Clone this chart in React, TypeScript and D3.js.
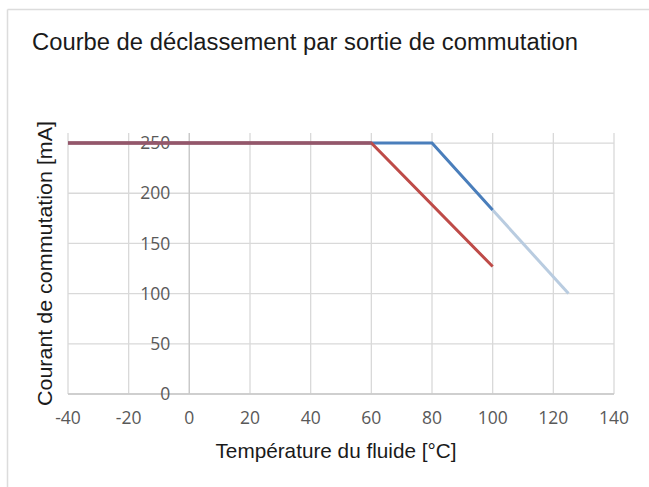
import React from "react";
import * as d3 from "d3";

const TITLE = "Courbe de déclassement par sortie de commutation";
const X_TITLE = "Température du fluide [°C]";
const Y_TITLE = "Courant de commutation [mA]";

const xTicks = [-40, -20, 0, 20, 40, 60, 80, 100, 120, 140];
const yTicks = [0, 50, 100, 150, 200, 250];

// red series
const redX = [-40, 60, 100];
const redY = [250, 250, 127];
// blue series (solid part)
const blueX = [-40, 60, 80, 100];
const blueY = [250, 250, 250, 183.3];
// light blue extension
const lightX = [100, 125];
const lightY = [183.3, 100];

const W = 649;
const H = 487;
const M = { left: 68, right: 35, top: 133, bottom: 93 };

export default function App() {
  const x = d3.scaleLinear().domain([-40, 140]).range([M.left, W - M.right]);
  const y = d3.scaleLinear().domain([0, 260]).range([H - M.bottom, M.top]);
  const line = d3
    .line<[number, number]>()
    .x((d) => x(d[0]))
    .y((d) => y(d[1]));
  const pts = (xs: number[], ys: number[]) => xs.map((v, i) => [v, ys[i]] as [number, number]);

  const red = pts(redX, redY);
  const blue = pts(blueX, blueY);
  const light = pts(lightX, lightY);
  // segment where both series coincide
  const overlap = red.filter((p) => blue.some((q) => q[0] === p[0] && q[1] === p[1]));

  const tickFont = "'Open Sans', 'Noto Sans', sans-serif";
  const labelFont = "'Liberation Sans', Arial, sans-serif";

  return (
    <svg
      width={W}
      height={H}
      style={{ position: "absolute", left: 0, top: 0, display: "block", background: "#fff" }}
    >
      <line x1={7.5} x2={W} y1={9.5} y2={9.5} stroke="#dcdcdc" strokeWidth={1.5} />
      <line x1={7.5} x2={7.5} y1={9.5} y2={H} stroke="#dcdcdc" strokeWidth={1.5} />
      <text x={32} y={50} fontFamily={labelFont} fontSize={23.5} fill="#1a1a1a" textLength={546} lengthAdjust="spacingAndGlyphs">
        {TITLE}
      </text>
      {/* gridlines */}
      {xTicks.map((t) => (
        <line key={"gx" + t} x1={x(t)} x2={x(t)} y1={M.top} y2={y(0)} stroke="#d9d9d9" strokeWidth={1.3} />
      ))}
      {yTicks.map((t) => (
        <line key={"gy" + t} x1={x(-40)} x2={x(140)} y1={y(t)} y2={y(t)} stroke="#d9d9d9" strokeWidth={1.3} />
      ))}
      <line x1={x(0)} x2={x(0)} y1={M.top} y2={y(0)} stroke="#c8c8c8" strokeWidth={1.3} />
      <line x1={x(-40)} x2={x(140)} y1={y(0)} y2={y(0)} stroke="#c8c8c8" strokeWidth={1.3} />
      {/* y tick labels next to the vertical axis at x=0 */}
      {yTicks.map((t) => (
        <text
          key={"ty" + t}
          x={x(0) - 19}
          y={y(t)}
          dy="0.35em"
          textAnchor="end"
          fontFamily={tickFont}
          fontSize={17.5}
          fill="#595959"
        >
          {t}
        </text>
      ))}
      {xTicks.map((t) => (
        <text
          key={"tx" + t}
          x={x(t)}
          y={y(0) + 24}
          dy="0.35em"
          textAnchor="middle"
          fontFamily={tickFont}
          fontSize={17.5}
          fill="#595959"
        >
          {t}
        </text>
      ))}
      {/* series */}
      <path d={line(light) || ""} fill="none" stroke="#b9cce0" strokeWidth={3} />
      <path d={line(blue) || ""} fill="none" stroke="#4a7ebb" strokeWidth={3} />
      <path d={line(red) || ""} fill="none" stroke="#be4b48" strokeWidth={3} />
      <path d={line(overlap) || ""} fill="none" stroke="#93576b" strokeWidth={3} />
      <text
        x={336}
        y={458}
        textAnchor="middle"
        fontFamily={labelFont}
        fontSize={21}
        fill="#1a1a1a"
        textLength={241}
        lengthAdjust="spacingAndGlyphs"
      >
        {X_TITLE}
      </text>
      <text
        transform={`translate(52, ${(M.top + y(0)) / 2}) rotate(-90)`}
        textAnchor="middle"
        fontFamily={labelFont}
        fontSize={21}
        fill="#1a1a1a"
        textLength={285}
        lengthAdjust="spacingAndGlyphs"
      >
        {Y_TITLE}
      </text>
    </svg>
  );
}
